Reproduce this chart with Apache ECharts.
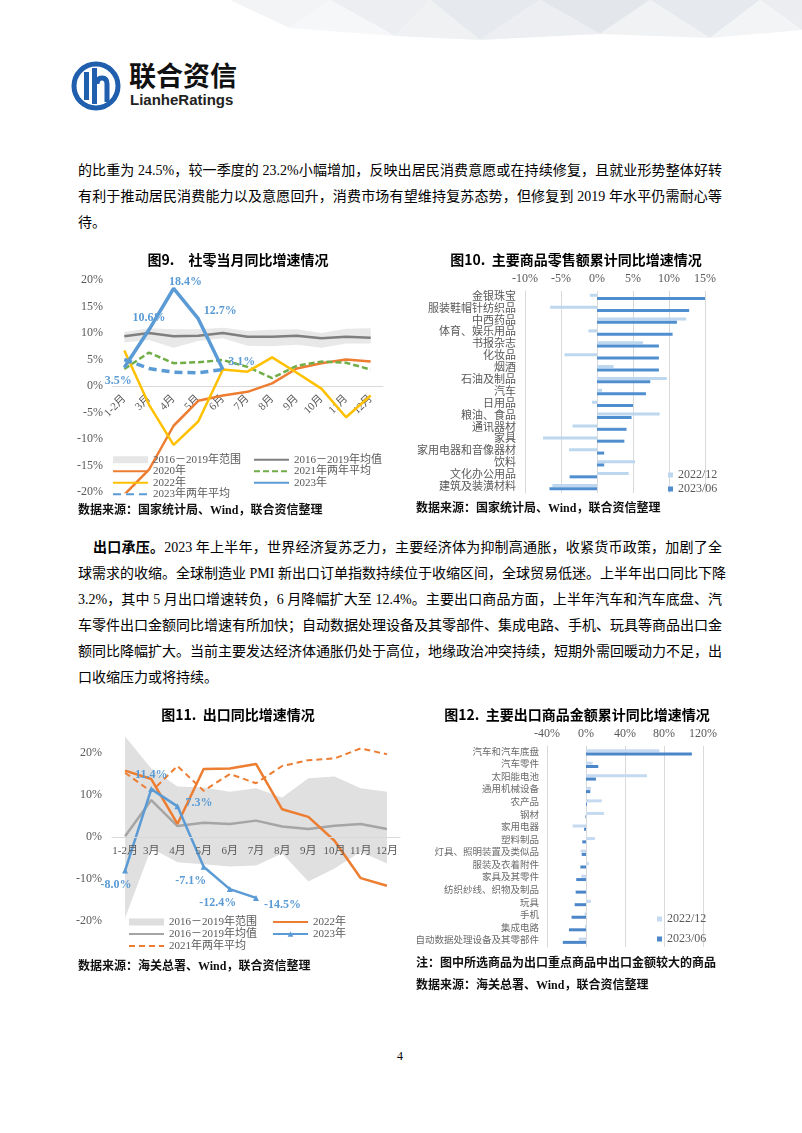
<!DOCTYPE html>
<html><head><meta charset="utf-8">
<script src="https://cdn.jsdelivr.net/npm/echarts@6/dist/echarts.min.js"></script>
<style>
html,body{margin:0;padding:0;}
body{width:802px;height:1133px;background:#fff;position:relative;overflow:hidden;font-family:'Liberation Serif','Noto Sans CJK SC',serif;color:#000;}
.ln{position:absolute;left:78px;width:644px;font-size:14px;line-height:18px;white-space:nowrap;text-align:justify;text-align-last:justify;}
.ln.last{text-align:left;text-align-last:left;}
.src{position:absolute;font-size:12px;line-height:14px;font-weight:bold;white-space:nowrap;color:#111;}
.ch{position:absolute;}
</style></head><body>
<svg style="position:absolute;left:0;top:0" width="802" height="60">
  <polygon points="230,0 330,0 290,28" fill="#F3F4F6"/>
  <polygon points="330,0 430,0 395,36" fill="#ECEEF1"/>
  <polygon points="290,28 395,36 330,0" fill="#F6F7F8"/>
  <polygon points="430,0 540,0 480,40" fill="#E6E9ED"/>
  <polygon points="395,36 480,40 430,0" fill="#EFF1F3"/>
  <polygon points="540,0 650,0 600,34" fill="#E3E6EA"/>
  <polygon points="480,40 600,34 540,0" fill="#ECEEF1"/>
  <polygon points="650,0 760,0 710,38" fill="#E6E9ED"/>
  <polygon points="600,34 710,38 650,0" fill="#F0F2F4"/>
  <polygon points="760,0 802,0 802,30" fill="#EBEDF0"/>
  <polygon points="710,38 802,30 760,0" fill="#F3F4F6"/>
</svg>
<svg style="position:absolute;left:70px;top:60px" width="54" height="54" viewBox="0 0 54 54">
  <circle cx="26" cy="26" r="22" fill="#fff" stroke="#1F5FAD" stroke-width="5"/>
  <rect x="14" y="12" width="5" height="28" fill="#1F5FAD"/>
  <rect x="22" y="8" width="5" height="36" fill="#1F5FAD"/>
  <path d="M27 24 Q27 18 32 18 Q37 18 37 24 L37 42" fill="none" stroke="#1F5FAD" stroke-width="5"/>
</svg>
<div style="position:absolute;left:129px;top:58px;font-family:'Noto Sans CJK SC';font-weight:bold;font-size:27px;line-height:34px;color:#111;">联合资信</div>
<div style="position:absolute;left:130px;top:91px;font-family:'Liberation Sans';font-weight:bold;font-size:15px;line-height:18px;color:#222;">LianheRatings</div>

<div class="ln" style="top:162px">的比重为 24.5%，较一季度的 23.2%小幅增加，反映出居民消费意愿或在持续修复，且就业形势整体好转</div>
<div class="ln" style="top:188px">有利于推动居民消费能力以及意愿回升，消费市场有望维持复苏态势，但修复到 2019 年水平仍需耐心等</div>
<div class="ln last" style="top:214px">待。</div>

<div class="ch" id="c9" style="left:75px;top:245px;width:326px;height:260px"></div>
<div class="ch" id="c10" style="left:410px;top:245px;width:332px;height:260px"></div>
<div class="src" style="left:78px;top:503px">数据来源：国家统计局、Wind，联合资信整理</div>
<div class="src" style="left:416px;top:501px">数据来源：国家统计局、Wind，联合资信整理</div>

<div class="ln" style="top:539px;left:93px;width:629px"><b>出口承压。</b>2023 年上半年，世界经济复苏乏力，主要经济体为抑制高通胀，收紧货币政策，加剧了全</div>
<div class="ln" style="top:565px">球需求的收缩。全球制造业 PMI 新出口订单指数持续位于收缩区间，全球贸易低迷。上半年出口同比下降</div>
<div class="ln" style="top:591px">3.2%，其中 5 月出口增速转负，6 月降幅扩大至 12.4%。主要出口商品方面，上半年汽车和汽车底盘、汽</div>
<div class="ln" style="top:617px">车零件出口金额同比增速有所加快；自动数据处理设备及其零部件、集成电路、手机、玩具等商品出口金</div>
<div class="ln" style="top:643px">额同比降幅扩大。当前主要发达经济体通胀仍处于高位，地缘政治冲突持续，短期外需回暖动力不足，出</div>
<div class="ln last" style="top:669px">口收缩压力或将持续。</div>

<div class="ch" id="c11" style="left:75px;top:700px;width:326px;height:260px"></div>
<div class="ch" id="c12" style="left:410px;top:700px;width:334px;height:255px"></div>
<div class="src" style="left:78px;top:959px">数据来源：海关总署、Wind，联合资信整理</div>
<div class="src" style="left:416px;top:956px">注：图中所选商品为出口重点商品中出口金额较大的商品</div>
<div class="src" style="left:416px;top:978px">数据来源：海关总署、Wind，联合资信整理</div>
<div style="position:absolute;left:397px;top:1049px;font-size:12px;">4</div>

<script>
// ---------- Data ----------
const months = ['1-2月','3月','4月','5月','6月','7月','8月','9月','10月','11月','12月'];

// Fig 9: 社零当月同比 (%)
const retailRangeLow = [8.2, 8.7, 7.2, 8.5, 9.0, 7.6, 7.5, 7.8, 7.2, 8.0, 8.0];
const retailRangeHigh = [10.2, 10.9, 10.7, 10.7, 11.0, 10.4, 10.6, 10.7, 10.0, 10.8, 10.9];
const retailMean = [9.4, 10.0, 9.4, 9.5, 10.0, 9.3, 9.3, 9.5, 9.0, 9.3, 9.1];
const retail2020 = [-20.5, -15.8, -7.5, -2.8, -1.8, -1.1, 0.5, 3.3, 4.3, 5.0, 4.6];
const retail2021Avg = [3.2, 6.3, 4.3, 4.5, 4.9, 3.6, 1.5, 3.8, 4.6, 4.4, 3.1];
const retail2022 = [6.7, -3.5, -11.1, -6.7, 3.1, 2.7, 5.4, 2.5, -0.5, -5.9, -1.8];
const retail2023 = [3.5, 10.6, 18.4, 12.7, 3.1];
const retail2023Avg = [5.0, 3.3, 2.6, 2.5, 3.1];

// Fig 10: 主要商品零售额累计同比 (%)
const goods10 = ['金银珠宝','服装鞋帽针纺织品','中西药品','体育、娱乐用品','书报杂志','化妆品','烟酒','石油及制品','汽车','日用品','粮油、食品','通讯器材','家具','家用电器和音像器材','饮料','文化办公用品','建筑及装潢材料'];
const goods10_2212 = [-1.0, -6.5, 12.4, -1.2, 6.4, -4.5, 2.3, 9.7, 0.7, -0.7, 8.7, -3.4, -7.5, -3.9, 5.3, 4.4, -6.2];
const goods10_2306 = [15.0, 12.8, 11.1, 10.5, 8.6, 8.6, 8.6, 7.4, 6.8, 5.0, 4.8, 4.1, 3.8, 1.0, 1.0, -3.8, -6.6];

// Fig 11: 出口同比 (%)
const exportRangeLow = [-19.3, -2.7, -6.0, -6.5, -7.0, -6.8, -3.9, -10.6, -7.5, -3.5, -6.3];
const exportRangeHigh = [23.9, 16.3, 12.0, 11.8, 10.8, 11.6, 9.4, 14.0, 14.4, 11.6, 10.8];
const exportMean = [0.2, 8.8, 2.6, 3.4, 3.1, 3.9, 2.5, 1.9, 2.7, 3.1, 1.9];
const export2022 = [15.8, 13.8, 3.1, 16.2, 16.3, 17.4, 6.6, 4.8, -0.9, -9.8, -11.6];
const export2021Avg = [15.3, 10.8, 16.9, 11.0, 15.0, 12.8, 16.9, 18.3, 18.7, 21.1, 19.7];
const export2023 = [-8.0, 11.4, 7.3, -7.1, -12.4, -14.5];

// Fig 12: 主要出口商品金额累计同比 (%)
const goods12 = ['汽车和汽车底盘','汽车零件','太阳能电池','通用机械设备','农产品','钢材','家用电器','塑料制品','灯具、照明装置及类似品','服装及衣着附件','家具及其零件','纺织纱线、织物及制品','玩具','手机','集成电路','自动数据处理设备及其零部件'];
const goods12_2212 = [75.2, 6.8, 62.5, 5.1, 16.2, 18.4, -13.7, 9.2, -5.5, 3.0, -4.8, 1.0, 5.0, -1.5, -1.0, -7.5];
const goods12_2306 = [108.6, 12.6, 10.2, 4.4, 1.0, -0.6, -2.0, -3.8, -4.4, -5.8, -10.0, -10.6, -11.6, -14.8, -17.5, -23.8];

// ---------- Styles ----------
const FONT = "'Liberation Serif','Noto Sans CJK SC',serif";
const TFONT = "'Noto Sans CJK SC','Liberation Sans',sans-serif";
const GRAY = '#595959';
const AXIS = '#D9D9D9';
const label9Style = [
  {position:'bottom', offset:[-6,2]},
  {position:'top', offset:[0,0]},
  {position:'right', offset:[-10,-7]},
  {position:'right', offset:[0,-8]},
  {position:'right', offset:[0,-8]}
];
const label11Style = [
  {position:'bottom', offset:[-9,0]},
  {position:'top', offset:[0,0]},
  {position:'right', offset:[0,-3]},
  {position:'bottom', offset:[-13,0]},
  {position:'bottom', offset:[-12,0]},
  {position:'right', offset:[0,7]}
];

function band(name, low, high, color) {
  return [
    {name:'_base_'+name, type:'line', data:low, stack:name, stackStrategy:'all', symbol:'none', silent:true,
     lineStyle:{opacity:0, width:0}, z:1},
    {name:'2016－2019年范围', type:'line', data:high.map((h,i)=>+(h-low[i]).toFixed(2)), stack:name, stackStrategy:'all',
     symbol:'none', silent:true, lineStyle:{opacity:0, width:0}, itemStyle:{color:color}, areaStyle:{color:color, opacity:1}, z:1}
  ];
}
function lbl(values, styles, color) {
  return values.map((v,i)=>({value:v, label:Object.assign({show:true, formatter:v.toFixed(1)+'%', color:color,
    fontFamily:FONT, fontSize:12, fontWeight:'bold'}, styles[i])}));
}
const titleStyle = {fontFamily:TFONT, fontSize:14, fontWeight:'bold', color:'#000'};
const legText = {fontFamily:FONT, fontSize:11, color:GRAY, lineHeight:11.5};
const legCommon = {orient:'vertical', padding:0, itemGap:0, itemWidth:35, itemHeight:7, itemStyle:{opacity:0}};

// ---------- Fig 9 ----------
const c9 = echarts.init(document.getElementById('c9'));
c9.setOption({
  animation:false,
  title:{text:'图9.　社零当月同比增速情况', left:'center', top:3, textStyle:titleStyle},
  grid:{left:37, top:35, width:271, height:212, outerBoundsMode:'none', containLabel:false},
  xAxis:{type:'category', data:months, boundaryGap:true, offset:-106,
    axisLine:{onZero:false, lineStyle:{color:AXIS, width:1}}, axisTick:{show:false},
    axisLabel:{rotate:45, margin:11, interval:0, fontFamily:FONT, fontSize:11, color:GRAY}},
  yAxis:{type:'value', min:-20, max:20, interval:5, splitLine:{show:false}, axisLine:{show:false}, axisTick:{show:false},
    axisLabel:{formatter:'{value}%', margin:9, fontFamily:FONT, fontSize:12, color:GRAY}},
  legend:[
    Object.assign({left:37, top:209, textStyle:legText,
     data:[{name:'2016－2019年范围', icon:'rect', itemStyle:{color:'#E6E6E6', opacity:1}},'2020年','2022年','2023年两年平均']}, legCommon),
    Object.assign({left:178, top:209, textStyle:legText,
     data:['2016－2019年均值','2021年两年平均','2023年']}, legCommon)
  ],
  series:[
    ...band('b9', retailRangeLow, retailRangeHigh, '#E8E8E8'),
    {name:'2016－2019年均值', type:'line', data:retailMean, symbol:'none', lineStyle:{color:'#7F7F7F', width:2.5}, itemStyle:{color:'#7F7F7F'}, z:3},
    {name:'2020年', type:'line', data:retail2020, symbol:'none', lineStyle:{color:'#ED7D31', width:2.5}, itemStyle:{color:'#ED7D31'}, z:3},
    {name:'2021年两年平均', type:'line', data:retail2021Avg, symbol:'none', lineStyle:{color:'#70AD47', width:2.5, type:[6,3]}, itemStyle:{color:'#70AD47'}, z:3},
    {name:'2022年', type:'line', data:retail2022, symbol:'none', lineStyle:{color:'#FFC000', width:2.5}, itemStyle:{color:'#FFC000'}, z:3},
    {name:'2023年两年平均', type:'line', data:retail2023Avg, symbol:'none', lineStyle:{color:'#5B9BD5', width:3.5, type:[8,5]}, itemStyle:{color:'#5B9BD5'}, z:4},
    {name:'2023年', type:'line', data:lbl(retail2023, label9Style, '#5B9BD5'), symbol:'circle', symbolSize:1, lineStyle:{color:'#5B9BD5', width:3.5}, itemStyle:{color:'#5B9BD5'}, z:5}
  ]
});

// ---------- Fig 10 ----------
const c10 = echarts.init(document.getElementById('c10'));
c10.setOption({
  animation:false,
  title:{text:'图10.  主要商品零售额累计同比增速情况', left:'center', top:3, textStyle:titleStyle},
  grid:{left:115, top:46, width:180, height:202, outerBoundsMode:'none', containLabel:false},
  xAxis:{type:'value', position:'top', min:-10, max:15, interval:5,
    axisLine:{show:false}, axisTick:{show:false}, splitLine:{show:true, lineStyle:{color:AXIS}},
    axisLabel:{formatter:'{value}%', margin:6, fontFamily:FONT, fontSize:12, color:GRAY}},
  yAxis:{type:'category', data:goods10, inverse:true,
    axisLine:{show:true, onZero:false, lineStyle:{color:AXIS}}, axisTick:{show:false},
    axisLabel:{margin:9, interval:0, fontFamily:FONT, fontSize:11, color:GRAY}},
  legend:{left:258, top:224, orient:'vertical', padding:0, itemGap:2, icon:'rect', itemWidth:5, itemHeight:5,
    textStyle:{fontFamily:FONT, fontSize:12, color:GRAY}, data:['2022/12','2023/06']},
  series:[
    {name:'2022/12', type:'bar', data:goods10_2212, barWidth:3, barGap:'10%', itemStyle:{color:'#BDD7EE'}},
    {name:'2023/06', type:'bar', data:goods10_2306, barWidth:3, barGap:'10%', itemStyle:{color:'#4F8FD0'}}
  ]
});

// ---------- Fig 11 ----------
const c11 = echarts.init(document.getElementById('c11'));
const leg11Text = {fontFamily:FONT, fontSize:11, color:GRAY, lineHeight:12};
c11.setOption({
  animation:false,
  title:{text:'图11.  出口同比增速情况', left:'center', top:3, textStyle:titleStyle},
  grid:{left:37, top:32, width:288, height:189, outerBoundsMode:'none', containLabel:false},
  xAxis:{type:'category', data:months, boundaryGap:true, offset:-84, z:10,
    axisLine:{onZero:false, lineStyle:{color:AXIS}}, axisTick:{show:false},
    axisLabel:{margin:9, interval:0, fontFamily:FONT, fontSize:11, color:GRAY}},
  yAxis:{type:'value', min:-20, max:25, interval:10, splitLine:{show:false}, axisLine:{show:false}, axisTick:{show:false},
    axisLabel:{formatter:v=>(v>20?'':v+'%'), margin:10, fontFamily:FONT, fontSize:12, color:GRAY}},
  legend:[
    Object.assign({left:53, top:216, textStyle:leg11Text,
     data:[{name:'2016－2019年范围', icon:'rect', itemStyle:{color:'#DEDEDE', opacity:1}},'2016－2019年均值','2021年两年平均']}, legCommon),
    Object.assign({left:197, top:216, textStyle:leg11Text,
     data:['2022年',{name:'2023年', itemStyle:{opacity:1}}]}, legCommon)
  ],
  series:[
    ...band('b11', exportRangeLow, exportRangeHigh, '#E0E0E0'),
    {name:'2016－2019年均值', type:'line', data:exportMean, symbol:'none', lineStyle:{color:'#A5A5A5', width:2.5}, itemStyle:{color:'#A5A5A5'}, z:3},
    {name:'2021年两年平均', type:'line', data:export2021Avg, symbol:'none', lineStyle:{color:'#ED7D31', width:2, type:[6,4]}, itemStyle:{color:'#ED7D31'}, z:3},
    {name:'2022年', type:'line', data:export2022, symbol:'none', lineStyle:{color:'#ED7D31', width:2.5}, itemStyle:{color:'#ED7D31'}, z:3},
    {name:'2023年', type:'line', data:lbl(export2023, label11Style, '#5B9BD5'), symbol:'triangle', symbolSize:6, lineStyle:{color:'#5B9BD5', width:2.5}, itemStyle:{color:'#5B9BD5'}, z:5}
  ]
});

// ---------- Fig 12 ----------
const c12 = echarts.init(document.getElementById('c12'));
c12.setOption({
  animation:false,
  title:{text:'图12.  主要出口商品金额累计同比增速情况', left:'center', top:3, textStyle:titleStyle},
  grid:{left:137, top:46, width:156, height:201, outerBoundsMode:'none', containLabel:false},
  xAxis:{type:'value', position:'top', min:-40, max:120, interval:40,
    axisLine:{show:false}, axisTick:{show:false}, splitLine:{show:true, lineStyle:{color:AXIS}},
    axisLabel:{formatter:'{value}%', margin:6, fontFamily:FONT, fontSize:12, color:GRAY}},
  yAxis:{type:'category', data:goods12, inverse:true,
    axisLine:{show:true, onZero:false, lineStyle:{color:AXIS}}, axisTick:{show:false},
    axisLabel:{margin:8, interval:0, fontFamily:FONT, fontSize:9.5, color:'#6B6B6B'}},
  legend:{left:247, top:213, orient:'vertical', padding:0, itemGap:8, icon:'rect', itemWidth:5, itemHeight:5,
    textStyle:{fontFamily:FONT, fontSize:12, color:GRAY}, data:['2022/12','2023/06']},
  series:[
    {name:'2022/12', type:'bar', data:goods12_2212, barWidth:3, barGap:'10%', itemStyle:{color:'#C5DAF0'}},
    {name:'2023/06', type:'bar', data:goods12_2306, barWidth:3, barGap:'10%', itemStyle:{color:'#4A86C8'}}
  ]
});
</script>
</body></html>
